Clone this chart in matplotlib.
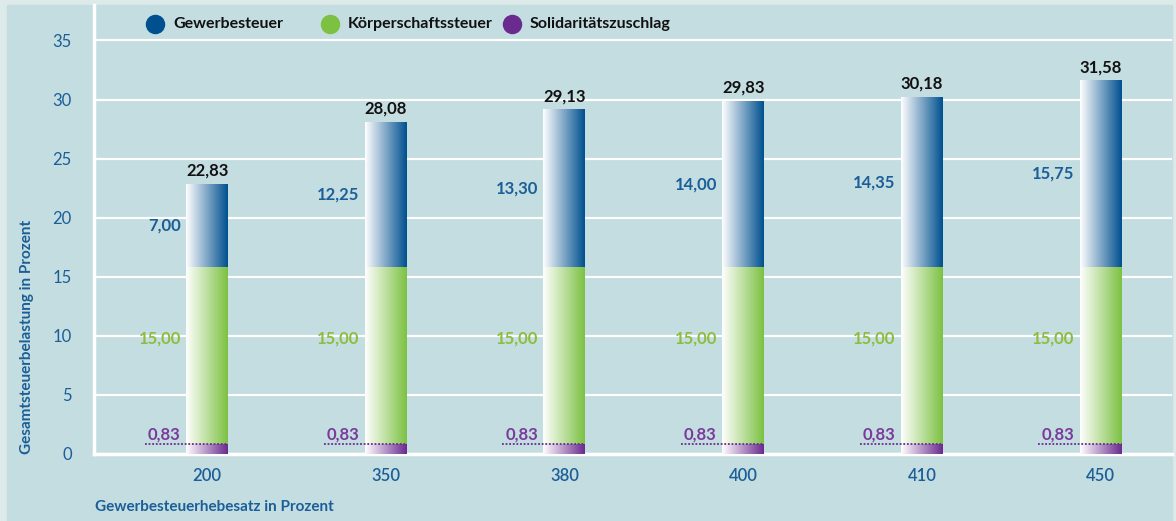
import numpy as np
import matplotlib.pyplot as plt
from matplotlib.colors import LinearSegmentedColormap
from matplotlib.patches import Rectangle

# Data -----------------------------------------------------------------------
hebesatz = ["200", "350", "380", "400", "410", "450"]
soli = [0.83, 0.83, 0.83, 0.83, 0.83, 0.83]
koerperschaft = [15.00, 15.00, 15.00, 15.00, 15.00, 15.00]
gewerbe = [7.00, 12.25, 13.30, 14.00, 14.35, 15.75]
gesamt = [22.83, 28.08, 29.13, 29.83, 30.18, 31.58]
series_names = ["Gewerbesteuer", "Körperschaftssteuer", "Solidaritätszuschlag"]

# Style ----------------------------------------------------------------------
_BLUE = "#00508f"
_GREEN = "#7cc142"
_PURPLE = "#6a2a8e"
_LBL_BLUE = "#1b5e98"
_LBL_GREEN = "#8dbd3c"
_LBL_PURPLE = "#7a3a9c"
_PANEL = "#c3dde0"
_FRAME = "#dceaea"
W, H = 1176, 521

plt.rcParams.update({"font.family": ["Lato", "DejaVu Sans"], "font.size": 11})


def _fmt(v):
    return f"{v:.2f}".replace(".", ",")


def _grad_bar(ax, x, y0, y1, width, color):
    cmap = LinearSegmentedColormap.from_list("g", ["#ffffff", color])
    grad = np.linspace(0, 1, 256).reshape(1, -1)
    ax.imshow(grad, extent=[x - width / 2, x + width / 2, y0, y1],
              cmap=cmap, aspect="auto", zorder=3, interpolation="bilinear")


fig = plt.figure(figsize=(W / 100, H / 100), dpi=100, facecolor=_FRAME)
fig.patches.append(Rectangle((7 / W, 0), 1165 / W, 516 / H,
                             transform=fig.transFigure, color=_PANEL,
                             zorder=-10))
ax = fig.add_axes([94 / W, 67 / H, 1078 / W, 449 / H])
ax.set_facecolor(_PANEL)

x = np.arange(len(hebesatz))
width = 0.235
for i in x:
    b0 = soli[i]
    b1 = b0 + koerperschaft[i]
    b2 = b1 + gewerbe[i]
    _grad_bar(ax, i, 0, b0, width, _PURPLE)
    _grad_bar(ax, i, b0, b1, width, _GREEN)
    _grad_bar(ax, i, b1, b2, width, _BLUE)

    lx = i - width / 2 - 0.03
    ax.text(lx, (b1 + b2) / 2, _fmt(gewerbe[i]), ha="right", va="center",
            color=_LBL_BLUE, fontsize=12, fontweight="bold")
    ax.text(lx, 9.8, _fmt(koerperschaft[i]), ha="right", va="center",
            color=_LBL_GREEN, fontsize=12, fontweight="bold")
    ax.text(lx, b0 + 0.15, _fmt(soli[i]), ha="right", va="bottom",
            color=_LBL_PURPLE, fontsize=12, fontweight="bold")
    ax.plot([i - width / 2 - 0.23, i + width / 2], [b0, b0], ls=(0, (1, 1)),
            color=_PURPLE, lw=1.3, zorder=4)
    ax.annotate(_fmt(gesamt[i]), (i, b2), textcoords="offset points",
                xytext=(0, 4), ha="center", va="bottom",
                fontsize=12, fontweight="bold", color="#111111")

ax.set_xlim(-0.633, 5.40)
ax.set_ylim(0, 38.0)
ax.set_yticks(range(0, 36, 5))
ax.set_xticks(x)
ax.set_xticklabels(hebesatz, fontweight="semibold")
ax.grid(axis="y", color="white", lw=1.6, zorder=1)
ax.set_axisbelow(True)
for s in ("top", "right"):
    ax.spines[s].set_visible(False)
for s in ("left", "bottom"):
    ax.spines[s].set_color("white")
    ax.spines[s].set_linewidth(2.5)
ax.tick_params(length=0, colors=_LBL_BLUE, labelsize=12)
ax.tick_params(axis="y", pad=16)
ax.tick_params(axis="x", pad=10)

fig.text(95 / W, 1 - 507 / H, "Gewerbesteuerhebesatz in Prozent",
         color=_LBL_BLUE, fontsize=11, fontweight="bold", ha="left", va="center")
fig.text(27 / W, 1 - 337 / H, "Gesamtsteuerbelastung in Prozent",
         color=_LBL_BLUE, fontsize=11, fontweight="bold", rotation=90,
         ha="center", va="center")

# legend, placed by hand (uneven spacing in the original)
for name, color, cx in zip(series_names, (_BLUE, _GREEN, _PURPLE),
                           (155, 330, 512)):
    fig.lines.append(plt.Line2D([cx / W], [1 - 24 / H], ls="", marker="o",
                                markersize=13, color=color,
                                transform=fig.transFigure))
    fig.text((cx + 18) / W, 1 - 24 / H, name, ha="left", va="center",
             fontsize=11.5, fontweight="bold", color="#111111")

fig.savefig("out.png", dpi=100, facecolor=_FRAME)
